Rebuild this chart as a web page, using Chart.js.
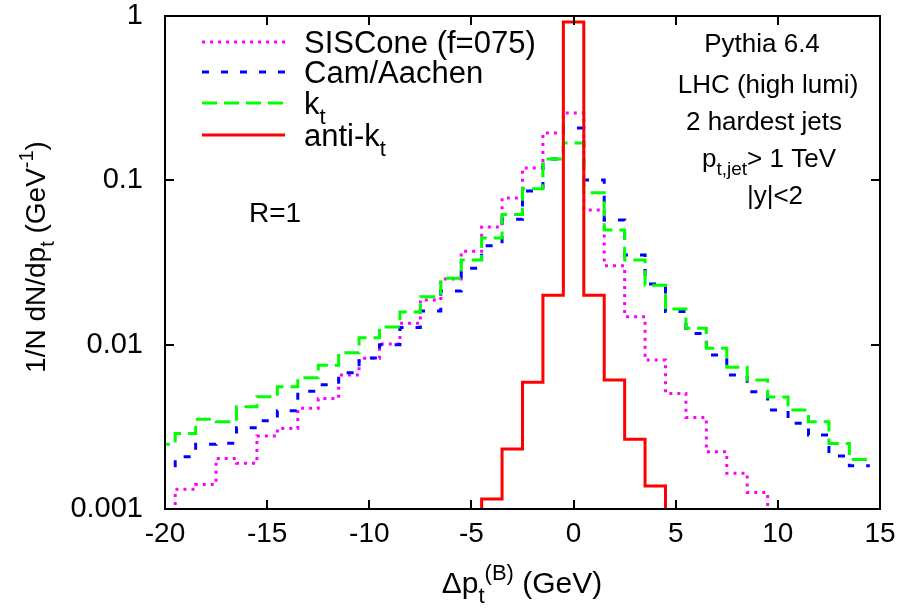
<!DOCTYPE html>
<html>
<head>
<meta charset="utf-8">
<script src="https://cdn.jsdelivr.net/npm/chart.js@4.4.0/dist/chart.umd.min.js"></script>
<style>
  html, body { margin: 0; padding: 0; background: #fff; }
  #wrap { width: 906px; height: 609px; }
</style>
</head>
<body>
<div id="wrap"><canvas id="chart" width="906" height="609"></canvas></div>
<script>
// bin centres in GeV, bins are 1 GeV wide
const bins = [-20, -19, -18, -17, -16, -15, -14, -13, -12, -11, -10, -9, -8, -7, -6, -5, -4, -3, -2, -1,
              0, 1, 2, 3, 4, 5, 6, 7, 8, 9, 10, 11, 12, 13, 14];

const sisconeVals = [0.0009, 0.00132, 0.00141, 0.00203, 0.0019, 0.00278, 0.00309, 0.0041, 0.0047, 0.00653,
                     0.00826, 0.0101, 0.0135, 0.0187, 0.0251, 0.037, 0.052, 0.078, 0.119, 0.194,
                     0.257, 0.066, 0.0302, 0.0148, 0.00806, 0.00505, 0.00361, 0.00223, 0.00165, 0.00126,
                     0.0009, null, null, null, null];

const camVals = [0.00183, 0.00208, 0.00248, 0.00251, 0.00312, 0.00344, 0.00396, 0.0052, 0.0057, 0.00675,
                 0.0083, 0.0100, 0.0127, 0.016, 0.0212, 0.0292, 0.040, 0.058, 0.086, 0.135,
                 0.208, 0.1005, 0.0573, 0.0351, 0.0234, 0.0159, 0.0117, 0.00865, 0.00653, 0.00517,
                 0.0040, 0.00332, 0.00282, 0.0021, 0.00183];

const ktVals = [0.00248, 0.00288, 0.00352, 0.0034, 0.00419, 0.00482, 0.00554, 0.00629, 0.0075, 0.00893,
                0.011, 0.0128, 0.0158, 0.0196, 0.0254, 0.0327, 0.0445, 0.062, 0.089, 0.135,
                0.169, 0.084, 0.0498, 0.0327, 0.023, 0.0165, 0.0126, 0.0095, 0.0073, 0.0061,
                0.0048, 0.0040, 0.0034, 0.0025, 0.0020];

const antiKtBins = [-5, -4, -3, -2, -1, 0, 1, 2, 3, 4, 5];
const antiKtVals = [0.0009, 0.00115, 0.00232, 0.0059, 0.020, 0.92, 0.020, 0.0061, 0.00266, 0.00138, 0.0009];

const yMajorLabels = ['0.001', '0.01', '0.1', '1'];

// text pieces: [text, 'sub' | 'sup' | undefined]
const legendLabels = [
    [['SISCone (f=075)']],
    [['Cam/Aachen']],
    [['k'], ['t', 'sub']],
    [['anti-k'], ['t', 'sub']]
];
const infoLines = [
    [['Pythia 6.4']],
    [['LHC (high lumi)']],
    [['2 hardest jets']],
    [['p'], ['t,jet', 'sub'], ['> 1 TeV']],
    [['|y|<2']]
];
const radiusLabel = [['R=1']];
const xTitle = [['\u0394p'], ['t', 'sub'], ['(B)', 'sup'], [' (GeV)']];
const yTitle = [['1/N dN/dp'], ['t', 'sub'], [' (GeV'], ['-1', 'sup'], [')']];

const colours = ['#ff00ff', '#0000ff', '#00ff00', '#ff0000'];
const dashes = [[3, 5], [7, 12], [15, 7], []];

const FONT = '"Liberation Sans", Arial, sans-serif';

function histPoints(centres, vals) {
    const pts = [];
    centres.forEach((c, i) => {
        const v = vals[i];
        if (v === null) return;
        pts.push({ x: c - 0.5, y: v });
        pts.push({ x: c + 0.5, y: v });
    });
    return pts;
}

function drawRich(ctx, parts, x, y, size, align) {
    const small = Math.round(size * 0.72);
    const widths = parts.map(p => {
        ctx.font = (p[1] ? small : size) + 'px ' + FONT;
        return ctx.measureText(p[0]).width;
    });
    const total = widths.reduce((a, b) => a + b, 0);
    let cx = x;
    if (align === 'center') cx = x - total / 2;
    if (align === 'right') cx = x - total;
    ctx.textAlign = 'left';
    ctx.textBaseline = 'alphabetic';
    parts.forEach((p, i) => {
        ctx.font = (p[1] ? small : size) + 'px ' + FONT;
        let dy = 0;
        if (p[1] === 'sub') dy = size * 0.32;
        if (p[1] === 'sup') dy = -size * 0.42;
        ctx.fillText(p[0], cx, y + dy);
        cx += widths[i];
    });
}

const decorPlugin = {
    id: 'decor',
    afterDatasetsDraw(chart) {
        const ctx = chart.ctx;
        const a = chart.chartArea;
        const xs = chart.scales.x;
        const ys = chart.scales.y;
        ctx.save();
        ctx.strokeStyle = '#000';
        ctx.lineWidth = 2;

        // inward ticks on all four sides
        ctx.beginPath();
        xs.ticks.forEach(t => {
            const px = Math.round(xs.getPixelForValue(t.value));
            ctx.moveTo(px, a.bottom); ctx.lineTo(px, a.bottom - 9);
            ctx.moveTo(px, a.top); ctx.lineTo(px, a.top + 9);
        });
        ys.ticks.forEach(t => {
            const lg = Math.log10(t.value);
            const major = Math.abs(lg - Math.round(lg)) < 1e-6;
            const len = major ? 9 : 5;
            const py = Math.round(ys.getPixelForValue(t.value));
            ctx.moveTo(a.left, py); ctx.lineTo(a.left + len, py);
            ctx.moveTo(a.right, py); ctx.lineTo(a.right - len, py);
        });
        ctx.stroke();
        ctx.strokeRect(a.left, a.top, a.right - a.left, a.bottom - a.top);

        // key
        ctx.fillStyle = '#000';
        const rowY = [42, 72, 103, 135];
        legendLabels.forEach((lab, i) => {
            ctx.beginPath();
            ctx.strokeStyle = colours[i];
            ctx.lineWidth = 3;
            ctx.setLineDash(dashes[i]);
            ctx.moveTo(202, rowY[i]);
            ctx.lineTo(285, rowY[i]);
            ctx.stroke();
            ctx.setLineDash([]);
            drawRich(ctx, lab, 304, rowY[i] + 11, 31, 'left');
        });

        // labels
        const infoX = [762, 768, 764, 769, 775];
        const infoY = [52, 93, 130, 167, 204];
        infoLines.forEach((line, i) => drawRich(ctx, line, infoX[i], infoY[i], 26, 'center'));
        drawRich(ctx, radiusLabel, 275, 222, 28, 'center');

        // axis titles
        drawRich(ctx, xTitle, 522, 593, 30, 'center');
        ctx.save();
        ctx.translate(45, 257);
        ctx.rotate(-Math.PI / 2);
        drawRich(ctx, yTitle, 0, 0, 28, 'center');
        ctx.restore();

        ctx.restore();
    }
};

const ctx = document.getElementById('chart').getContext('2d');
new Chart(ctx, {
    type: 'line',
    data: {
        datasets: [
            { label: 'anti-kt', data: histPoints(antiKtBins, antiKtVals), borderColor: colours[3], borderDash: dashes[3] },
            { label: 'kt', data: histPoints(bins, ktVals), borderColor: colours[2], borderDash: dashes[2] },
            { label: 'Cam/Aachen', data: histPoints(bins, camVals), borderColor: colours[1], borderDash: dashes[1] },
            { label: 'SISCone (f=075)', data: histPoints(bins, sisconeVals), borderColor: colours[0], borderDash: dashes[0] }
        ].map(d => Object.assign(d, { borderWidth: 3, pointRadius: 0, fill: false, tension: 0 }))
    },
    options: {
        responsive: false,
        animation: false,
        devicePixelRatio: 1,
        layout: { padding: { top: 16, right: 26, left: 0, bottom: 0 } },
        plugins: {
            legend: { display: false },
            title: { display: false },
            tooltip: { enabled: false }
        },
        scales: {
            x: {
                type: 'linear',
                min: -20,
                max: 15,
                ticks: {
                    stepSize: 5,
                    color: '#000',
                    padding: 8,
                    maxRotation: 0,
                    font: { size: 28, family: FONT }
                },
                grid: { display: false, drawTicks: false },
                border: { display: false },
                afterFit: s => { s.height = 100; s.paddingLeft = 0; s.paddingRight = 0; }
            },
            y: {
                type: 'logarithmic',
                min: 0.001,
                max: 1,
                ticks: {
                    color: '#000',
                    padding: 22,
                    font: { size: 29, family: FONT },
                    callback: function(value) {
                        const lg = Math.log10(value);
                        if (Math.abs(lg - Math.round(lg)) > 1e-6) return null;
                        return yMajorLabels[Math.round(lg) + 3];
                    }
                },
                grid: { display: false, drawTicks: false },
                border: { display: false },
                afterFit: s => { s.width = 165; s.paddingTop = 0; s.paddingBottom = 0; }
            }
        }
    },
    plugins: [decorPlugin]
});
</script>
</body>
</html>
